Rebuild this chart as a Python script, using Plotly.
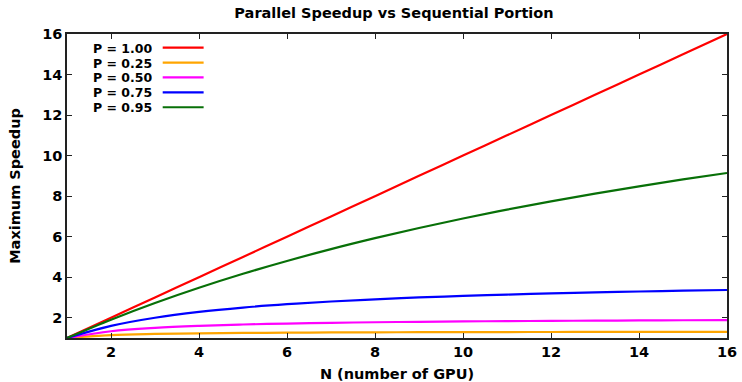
import plotly.graph_objects as go

N = list(range(1, 17))
labels = ["P = 1.00", "P = 0.25", "P = 0.50", "P = 0.75", "P = 0.95"]
colors = ["#ff0000", "#ffa500", "#ff00ff", "#0000ff", "#087008"]
s_100 = [1, 2, 3, 4, 5, 6, 7, 8, 9, 10, 11, 12, 13, 14, 15, 16]
s_025 = [1.0, 1.143, 1.2, 1.231, 1.25, 1.263, 1.273, 1.28, 1.286, 1.290, 1.294, 1.297, 1.300, 1.302, 1.304, 1.306]
s_050 = [1.0, 1.333, 1.5, 1.6, 1.667, 1.714, 1.75, 1.778, 1.8, 1.818, 1.833, 1.846, 1.857, 1.867, 1.875, 1.882]
s_075 = [1.0, 1.6, 2.0, 2.286, 2.5, 2.667, 2.8, 2.909, 3.0, 3.077, 3.143, 3.2, 3.25, 3.294, 3.333, 3.368]
s_095 = [1.0, 1.905, 2.727, 3.478, 4.167, 4.8, 5.385, 5.926, 6.429, 6.897, 7.333, 7.742, 8.125, 8.485, 8.824, 9.143]
series = [s_100, s_025, s_050, s_075, s_095]

x_ticks = [2, 4, 6, 8, 10, 12, 14, 16]
y_ticks = [2, 4, 6, 8, 10, 12, 14, 16]

FONT = "DejaVu Sans"
FS = 14.5
fig = go.Figure()
for lab, col, ys in zip(labels, colors, series):
    fig.add_trace(go.Scatter(x=N, y=ys, mode="lines", name=lab,
                             line=dict(color=col, width=2.2, shape="spline"),
                             showlegend=False))

# custom gnuplot-style legend (text then sample line)
leg_y0 = 0.955
leg_dy = 0.049
for i, (lab, col) in enumerate(zip(labels, colors)):
    yy = leg_y0 - i * leg_dy
    fig.add_annotation(xref="paper", yref="paper", x=0.131, y=yy, text=lab,
                       showarrow=False, xanchor="right", yanchor="middle",
                       height=14, borderpad=0,
                       font=dict(family=FONT, size=12.5, color="#000", weight="bold"))
    fig.add_shape(type="line", xref="paper", yref="paper", x0=0.145, x1=0.207,
                  y0=yy, y1=yy, line=dict(color=col, width=2.2))

axis_common = dict(showline=True, linecolor="#222", linewidth=1.5, mirror="ticks",
                   ticks="inside", ticklen=5, tickcolor="#222", tickwidth=1,
                   showgrid=False, zeroline=False, automargin=False,
                   tickfont=dict(family=FONT, size=FS, color="#000", weight="bold"))
fig.update_xaxes(range=[1, 16], tickvals=x_ticks, **axis_common,
                 title=dict(text="N (number of GPU)", standoff=11,
                            font=dict(family=FONT, size=FS, color="#000", weight="bold")))
fig.update_yaxes(range=[1, 16], tickvals=y_ticks, **axis_common,
                 title=dict(text="Maximum Speedup", standoff=18,
                            font=dict(family=FONT, size=FS, color="#000", weight="bold")))
fig.update_layout(
    width=742, height=382,
    margin=dict(l=67, r=15, t=34, b=44, autoexpand=False),
    plot_bgcolor="white", paper_bgcolor="white",
    title=dict(text="Parallel Speedup vs Sequential Portion", x=0.531, xanchor="center",
               y=0.965, yanchor="middle", automargin=False,
               font=dict(family=FONT, size=FS, color="#000", weight="bold")),
    font=dict(family=FONT, color="#000"),
)
fig.write_html("out.html")
